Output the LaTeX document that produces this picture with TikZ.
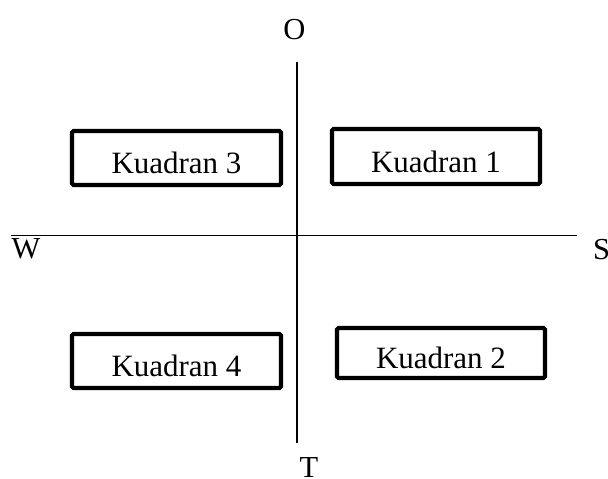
\documentclass[tikz,border=0pt]{standalone}
\usepackage{fontspec}
\setmainfont{Liberation Serif}
\begin{document}
\begin{tikzpicture}[x=1pt,y=-1pt,
  quad/.style={draw=black,line width=4.2pt,rounded corners=1.5pt,inner sep=0pt,
    text height=31pt,text depth=0pt,font=\fontsize{31}{37}\selectfont},
  axislabel/.style={inner sep=0pt,font=\fontsize{30.5}{36}\selectfont},
  axisline/.style={draw=black,line width=1.8pt}]
\useasboundingbox (0,0) rectangle (608,479);
% axes
\coordinate (vtop) at (297,62);
\coordinate (vbot) at (297,443);
\coordinate (hleft) at (11,235.5);
\coordinate (hright) at (577,235.5);
\draw[axisline] (vtop) -- (vbot);
\draw[axisline] (hleft) -- (hright);
% axis labels
\node[axislabel,anchor=base] (O) at (294.5,39) {O};
\node[axislabel,anchor=base] (T) at (309,477) {T};
\node[axislabel,anchor=base] (W) at (26,258) {W};
\node[axislabel,anchor=base west] (S) at (593,259) {S};
% quadrant boxes
\node[quad,minimum width=209pt,minimum height=54pt] (k3) at (176.5,158) {Kuadran 3};
\node[quad,minimum width=208pt,minimum height=55pt] (k1) at (436,156.5) {Kuadran 1};
\node[quad,minimum width=209pt,minimum height=54pt] (k4) at (176.5,361) {Kuadran 4};
\node[quad,minimum width=208pt,minimum height=50pt] (k2) at (441,353) {Kuadran 2};
\end{tikzpicture}
\end{document}
